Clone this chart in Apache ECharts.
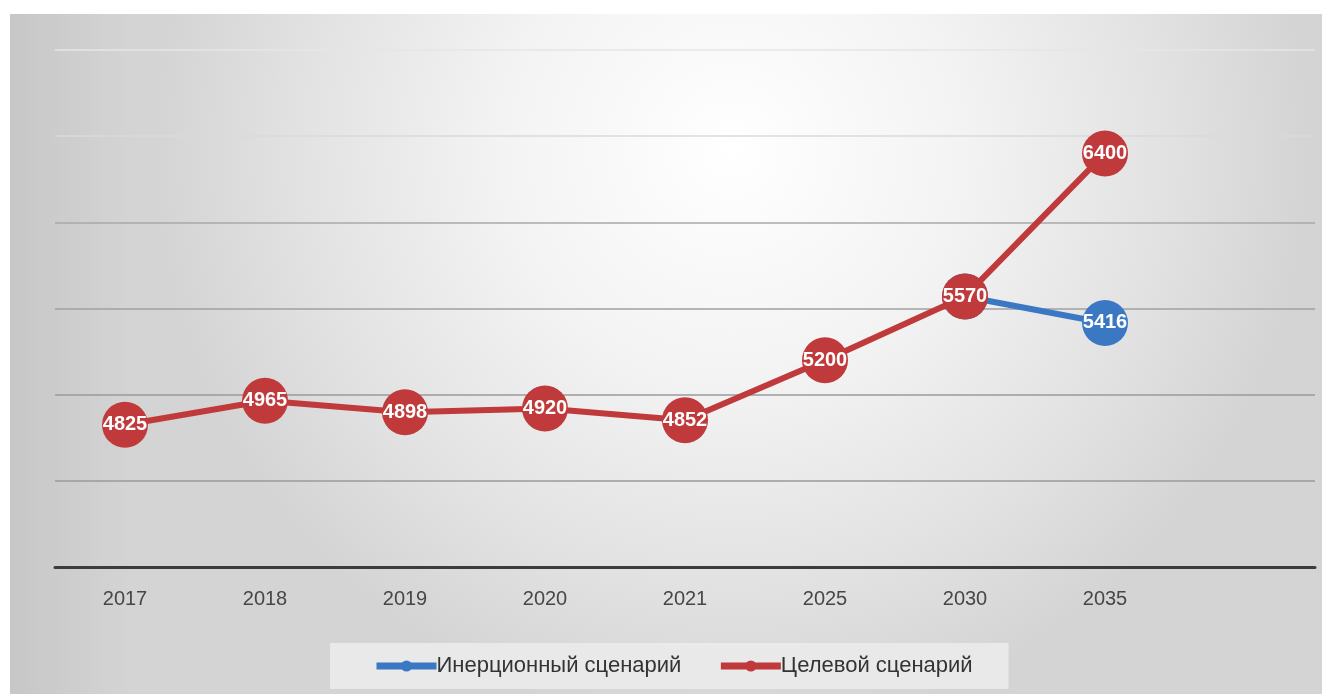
<!DOCTYPE html>
<html><head><meta charset="utf-8">
<script src="https://cdn.jsdelivr.net/npm/echarts@6/dist/echarts.min.js"></script>
<style>html,body{margin:0;padding:0;background:#fff}#c{width:1327px;height:694px}</style>
</head><body><div id="c"></div>
<script>
const categories = ['2017','2018','2019','2020','2021','2025','2030','2035',''];
const inertial = [null,null,null,null,null,null,5570,5416];
const target = [4825,4965,4898,4920,4852,5200,5570,6400];
const seriesNames = ['Инерционный сценарий','Целевой сценарий'];
const FONT = '"Liberation Sans",Arimo,sans-serif';
const chart = echarts.init(document.getElementById('c'));
chart.setOption({
  animation:false,
  graphic:[
    {type:'rect',left:10,top:14,z:-10,shape:{width:1312,height:680},
      style:{fill:{type:'radial',x:0.55,y:0.2,r:0.85,colorStops:[{offset:0,color:'#ffffff'},{offset:0.4,color:'#f3f3f3'},{offset:0.75,color:'#e2e2e2'},{offset:1,color:'#d4d4d4'}]}}},
    {type:'rect',left:10,top:14,z:-9,shape:{width:120,height:680},
      style:{fill:{type:'linear',x:0,y:0,x2:1,y2:0,colorStops:[{offset:0,color:'rgba(190,190,190,0.6)'},{offset:1,color:'rgba(190,190,190,0)'}]}}}
  ],
  grid:{left:55,right:12,top:50,bottom:127},
  legend:{left:330,top:643,itemWidth:60,itemHeight:14,itemGap:36,
    backgroundColor:'rgba(234,234,234,0.95)',padding:[12,36,12,43],
    lineStyle:{width:7},
    textStyle:{fontFamily:FONT,fontSize:22,color:'#333',padding:[0,0,0,-5]},
    data:seriesNames},
  xAxis:{type:'category',data:categories,boundaryGap:true,
    axisLine:{lineStyle:{color:'#3c3c3c',width:3}},axisTick:{show:false},
    axisLabel:{margin:22,fontFamily:FONT,fontSize:20,color:'#474747'}},
  yAxis:{type:'value',min:4000,max:7000,interval:500,axisLabel:{show:false},axisLine:{show:false},axisTick:{show:false},
    splitLine:{lineStyle:{color:['#999','#9a9a9a','#9a9a9a','#a0a0a0','#a8a8a8','#dadada','#e6e6e6'],width:1.5}}},
  series:[
    {name:seriesNames[0],type:'line',data:inertial,z:2,symbol:'circle',symbolSize:46,
      itemStyle:{color:'#3b78c4'},lineStyle:{width:6,color:'#3b78c4'},
      label:{show:true,position:'inside',color:'#fff',fontWeight:'bold',fontFamily:FONT,fontSize:20,
        formatter:p=>p.dataIndex===7?p.value:''}},
    {name:seriesNames[1],type:'line',data:target,z:3,symbol:'circle',symbolSize:46,
      itemStyle:{color:'#c0393b'},lineStyle:{width:6,color:'#c0393b'},
      label:{show:true,position:'inside',color:'#fff',fontWeight:'bold',fontFamily:FONT,fontSize:20}}
  ]
});
</script></body></html>
